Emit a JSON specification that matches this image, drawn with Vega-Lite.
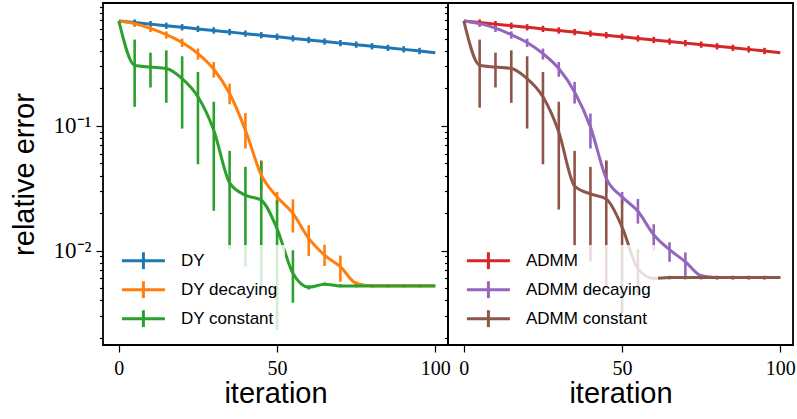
{
  "$schema": "https://vega.github.io/schema/vega-lite/v6.json",
  "padding": {"left": 9, "top": 2, "right": 2, "bottom": 2},
  "spacing": 0,
  "bounds": "flush",
  "resolve": {"scale": {"color": "independent"}, "legend": {"color": "independent"}},
  "config": {
    "view": {"stroke": "black", "strokeWidth": 1.8},
    "font": "Liberation Sans",
    "axis": {"grid": false, "domain": false, "tickColor": "black", "tickWidth": 1.2, "labelColor": "black", "titleColor": "black", "labelFont": "Liberation Serif", "labelFontSize": 20, "titleFont": "Liberation Sans", "titleFontSize": 29, "titleFontWeight": "normal"},
    "legend": {"orient": "bottom-left", "offset": 10, "padding": 7, "fillColor": "rgba(255,255,255,0.8)", "symbolType": "M-1,0H4M1.5,-1V1", "symbolSize": 296, "symbolStrokeWidth": 3, "labelFont": "Liberation Sans", "labelFontSize": 17, "labelOffset": 40, "rowPadding": 10, "clipHeight": 17.5, "labelColor": "black", "labelLimit": 300}
  },
  "data": {"values": [
    {"p":"L","s":"DY","i":0,"v":0.692},
    {"p":"L","s":"DY","i":5,"v":0.672,"lo":0.634,"hi":0.712},
    {"p":"L","s":"DY","i":10,"v":0.653,"lo":0.616,"hi":0.692},
    {"p":"L","s":"DY","i":15,"v":0.634,"lo":0.598,"hi":0.672},
    {"p":"L","s":"DY","i":20,"v":0.616,"lo":0.581,"hi":0.653},
    {"p":"L","s":"DY","i":25,"v":0.598,"lo":0.564,"hi":0.634},
    {"p":"L","s":"DY","i":30,"v":0.581,"lo":0.548,"hi":0.616},
    {"p":"L","s":"DY","i":35,"v":0.564,"lo":0.532,"hi":0.598},
    {"p":"L","s":"DY","i":40,"v":0.548,"lo":0.517,"hi":0.581},
    {"p":"L","s":"DY","i":45,"v":0.532,"lo":0.502,"hi":0.564},
    {"p":"L","s":"DY","i":50,"v":0.517,"lo":0.488,"hi":0.548},
    {"p":"L","s":"DY","i":55,"v":0.502,"lo":0.474,"hi":0.532},
    {"p":"L","s":"DY","i":60,"v":0.488,"lo":0.460,"hi":0.517},
    {"p":"L","s":"DY","i":65,"v":0.474,"lo":0.447,"hi":0.502},
    {"p":"L","s":"DY","i":70,"v":0.460,"lo":0.434,"hi":0.488},
    {"p":"L","s":"DY","i":75,"v":0.447,"lo":0.422,"hi":0.474},
    {"p":"L","s":"DY","i":80,"v":0.434,"lo":0.409,"hi":0.460},
    {"p":"L","s":"DY","i":85,"v":0.422,"lo":0.398,"hi":0.447},
    {"p":"L","s":"DY","i":90,"v":0.410,"lo":0.387,"hi":0.435},
    {"p":"L","s":"DY","i":95,"v":0.398,"lo":0.375,"hi":0.422},
    {"p":"L","s":"DY","i":100,"v":0.386},
    {"p":"L","s":"DY decaying","i":0,"v":0.692},
    {"p":"L","s":"DY decaying","i":5,"v":0.659,"lo":0.620,"hi":0.692},
    {"p":"L","s":"DY decaying","i":10,"v":0.604,"lo":0.565,"hi":0.638},
    {"p":"L","s":"DY decaying","i":15,"v":0.538,"lo":0.500,"hi":0.571},
    {"p":"L","s":"DY decaying","i":20,"v":0.465,"lo":0.429,"hi":0.500},
    {"p":"L","s":"DY decaying","i":25,"v":0.379,"lo":0.340,"hi":0.416},
    {"p":"L","s":"DY decaying","i":30,"v":0.284,"lo":0.244,"hi":0.325},
    {"p":"L","s":"DY decaying","i":35,"v":0.1815,"lo":0.149,"hi":0.218},
    {"p":"L","s":"DY decaying","i":40,"v":0.0923,"lo":0.0659,"hi":0.127},
    {"p":"L","s":"DY decaying","i":45,"v":0.0405,"lo":0.0306,"hi":0.0531},
    {"p":"L","s":"DY decaying","i":50,"v":0.0270,"lo":0.0236,"hi":0.0296},
    {"p":"L","s":"DY decaying","i":55,"v":0.0199,"lo":0.0140,"hi":0.0258},
    {"p":"L","s":"DY decaying","i":60,"v":0.01256,"lo":0.00906,"hi":0.0160},
    {"p":"L","s":"DY decaying","i":65,"v":0.00923,"lo":0.00755,"hi":0.0112},
    {"p":"L","s":"DY decaying","i":70,"v":0.00745,"lo":0.00565,"hi":0.00915},
    {"p":"L","s":"DY decaying","i":75,"v":0.00548,"lo":0.0053,"hi":0.0057},
    {"p":"L","s":"DY decaying","i":80,"v":0.00525,"lo":0.0051,"hi":0.0054},
    {"p":"L","s":"DY decaying","i":85,"v":0.00525,"lo":0.0051,"hi":0.0054},
    {"p":"L","s":"DY decaying","i":90,"v":0.00525,"lo":0.0051,"hi":0.0054},
    {"p":"L","s":"DY decaying","i":95,"v":0.00525,"lo":0.0051,"hi":0.0054},
    {"p":"L","s":"DY decaying","i":100,"v":0.00525},
    {"p":"L","s":"DY constant","i":0,"v":0.692},
    {"p":"L","s":"DY constant","i":5,"v":0.306,"lo":0.142,"hi":0.491},
    {"p":"L","s":"DY constant","i":10,"v":0.296,"lo":0.203,"hi":0.386},
    {"p":"L","s":"DY constant","i":15,"v":0.288,"lo":0.153,"hi":0.403},
    {"p":"L","s":"DY constant","i":20,"v":0.239,"lo":0.0952,"hi":0.361},
    {"p":"L","s":"DY constant","i":25,"v":0.171,"lo":0.0493,"hi":0.270},
    {"p":"L","s":"DY constant","i":30,"v":0.0923,"lo":0.0209,"hi":0.156},
    {"p":"L","s":"DY constant","i":35,"v":0.035,"lo":0.0103,"hi":0.0631},
    {"p":"L","s":"DY constant","i":40,"v":0.0279,"lo":0.00745,"hi":0.0470},
    {"p":"L","s":"DY constant","i":45,"v":0.0254,"lo":0.00485,"hi":0.0521},
    {"p":"L","s":"DY constant","i":50,"v":0.015,"lo":0.00232,"hi":0.0254},
    {"p":"L","s":"DY constant","i":55,"v":0.0066,"lo":0.00384,"hi":0.0101},
    {"p":"L","s":"DY constant","i":60,"v":0.0051,"lo":0.0049,"hi":0.0053},
    {"p":"L","s":"DY constant","i":65,"v":0.0054,"lo":0.00525,"hi":0.00557},
    {"p":"L","s":"DY constant","i":70,"v":0.00523,"lo":0.0051,"hi":0.0054},
    {"p":"L","s":"DY constant","i":75,"v":0.00523,"lo":0.0051,"hi":0.0054},
    {"p":"L","s":"DY constant","i":80,"v":0.00523,"lo":0.0051,"hi":0.0054},
    {"p":"L","s":"DY constant","i":85,"v":0.00523,"lo":0.0051,"hi":0.0054},
    {"p":"L","s":"DY constant","i":90,"v":0.00523,"lo":0.0051,"hi":0.0054},
    {"p":"L","s":"DY constant","i":95,"v":0.00523,"lo":0.0051,"hi":0.0054},
    {"p":"L","s":"DY constant","i":100,"v":0.00523},
    {"p":"R","s":"ADMM","i":0,"v":0.692},
    {"p":"R","s":"ADMM","i":5,"v":0.672,"lo":0.634,"hi":0.712},
    {"p":"R","s":"ADMM","i":10,"v":0.653,"lo":0.616,"hi":0.692},
    {"p":"R","s":"ADMM","i":15,"v":0.634,"lo":0.598,"hi":0.672},
    {"p":"R","s":"ADMM","i":20,"v":0.616,"lo":0.581,"hi":0.653},
    {"p":"R","s":"ADMM","i":25,"v":0.598,"lo":0.564,"hi":0.634},
    {"p":"R","s":"ADMM","i":30,"v":0.581,"lo":0.548,"hi":0.616},
    {"p":"R","s":"ADMM","i":35,"v":0.564,"lo":0.532,"hi":0.598},
    {"p":"R","s":"ADMM","i":40,"v":0.548,"lo":0.517,"hi":0.581},
    {"p":"R","s":"ADMM","i":45,"v":0.532,"lo":0.502,"hi":0.564},
    {"p":"R","s":"ADMM","i":50,"v":0.517,"lo":0.488,"hi":0.548},
    {"p":"R","s":"ADMM","i":55,"v":0.502,"lo":0.474,"hi":0.532},
    {"p":"R","s":"ADMM","i":60,"v":0.488,"lo":0.460,"hi":0.517},
    {"p":"R","s":"ADMM","i":65,"v":0.474,"lo":0.447,"hi":0.502},
    {"p":"R","s":"ADMM","i":70,"v":0.460,"lo":0.434,"hi":0.488},
    {"p":"R","s":"ADMM","i":75,"v":0.447,"lo":0.422,"hi":0.474},
    {"p":"R","s":"ADMM","i":80,"v":0.434,"lo":0.409,"hi":0.460},
    {"p":"R","s":"ADMM","i":85,"v":0.422,"lo":0.398,"hi":0.447},
    {"p":"R","s":"ADMM","i":90,"v":0.410,"lo":0.387,"hi":0.435},
    {"p":"R","s":"ADMM","i":95,"v":0.398,"lo":0.375,"hi":0.422},
    {"p":"R","s":"ADMM","i":100,"v":0.386},
    {"p":"R","s":"ADMM decaying","i":0,"v":0.692},
    {"p":"R","s":"ADMM decaying","i":5,"v":0.659,"lo":0.620,"hi":0.692},
    {"p":"R","s":"ADMM decaying","i":10,"v":0.606,"lo":0.565,"hi":0.638},
    {"p":"R","s":"ADMM decaying","i":15,"v":0.538,"lo":0.500,"hi":0.571},
    {"p":"R","s":"ADMM decaying","i":20,"v":0.465,"lo":0.429,"hi":0.500},
    {"p":"R","s":"ADMM decaying","i":25,"v":0.379,"lo":0.340,"hi":0.416},
    {"p":"R","s":"ADMM decaying","i":30,"v":0.288,"lo":0.247,"hi":0.325},
    {"p":"R","s":"ADMM decaying","i":35,"v":0.187,"lo":0.151,"hi":0.225},
    {"p":"R","s":"ADMM decaying","i":40,"v":0.0982,"lo":0.0659,"hi":0.1256},
    {"p":"R","s":"ADMM decaying","i":45,"v":0.038,"lo":0.029,"hi":0.053},
    {"p":"R","s":"ADMM decaying","i":50,"v":0.0270,"lo":0.0239,"hi":0.0296},
    {"p":"R","s":"ADMM decaying","i":55,"v":0.0207,"lo":0.0165,"hi":0.0260},
    {"p":"R","s":"ADMM decaying","i":60,"v":0.01345,"lo":0.0101,"hi":0.0163},
    {"p":"R","s":"ADMM decaying","i":65,"v":0.0102,"lo":0.00817,"hi":0.0117},
    {"p":"R","s":"ADMM decaying","i":70,"v":0.00817,"lo":0.0063,"hi":0.0097},
    {"p":"R","s":"ADMM decaying","i":75,"v":0.0063,"lo":0.0061,"hi":0.0065},
    {"p":"R","s":"ADMM decaying","i":80,"v":0.0061,"lo":0.0059,"hi":0.0063},
    {"p":"R","s":"ADMM decaying","i":85,"v":0.0061,"lo":0.0059,"hi":0.0063},
    {"p":"R","s":"ADMM decaying","i":90,"v":0.0061,"lo":0.0059,"hi":0.0063},
    {"p":"R","s":"ADMM decaying","i":95,"v":0.0061,"lo":0.0059,"hi":0.0063},
    {"p":"R","s":"ADMM decaying","i":100,"v":0.0061},
    {"p":"R","s":"ADMM constant","i":0,"v":0.692},
    {"p":"R","s":"ADMM constant","i":5,"v":0.306,"lo":0.140,"hi":0.491},
    {"p":"R","s":"ADMM constant","i":10,"v":0.296,"lo":0.203,"hi":0.386},
    {"p":"R","s":"ADMM constant","i":15,"v":0.288,"lo":0.153,"hi":0.403},
    {"p":"R","s":"ADMM constant","i":20,"v":0.239,"lo":0.0952,"hi":0.361},
    {"p":"R","s":"ADMM constant","i":25,"v":0.171,"lo":0.0493,"hi":0.270},
    {"p":"R","s":"ADMM constant","i":30,"v":0.0895,"lo":0.0214,"hi":0.156},
    {"p":"R","s":"ADMM constant","i":35,"v":0.033,"lo":0.0110,"hi":0.0631},
    {"p":"R","s":"ADMM constant","i":40,"v":0.0285,"lo":0.00817,"hi":0.0470},
    {"p":"R","s":"ADMM constant","i":45,"v":0.0260,"lo":0.0051,"hi":0.0521},
    {"p":"R","s":"ADMM constant","i":50,"v":0.0155,"lo":0.00316,"hi":0.0254},
    {"p":"R","s":"ADMM constant","i":55,"v":0.0072,"lo":0.00434,"hi":0.01026},
    {"p":"R","s":"ADMM constant","i":60,"v":0.0060,"lo":0.0058,"hi":0.0062},
    {"p":"R","s":"ADMM constant","i":65,"v":0.0061,"lo":0.0059,"hi":0.0063},
    {"p":"R","s":"ADMM constant","i":70,"v":0.0061,"lo":0.0059,"hi":0.0063},
    {"p":"R","s":"ADMM constant","i":75,"v":0.0061,"lo":0.0059,"hi":0.0063},
    {"p":"R","s":"ADMM constant","i":80,"v":0.0061,"lo":0.0059,"hi":0.0063},
    {"p":"R","s":"ADMM constant","i":85,"v":0.0061,"lo":0.0059,"hi":0.0063},
    {"p":"R","s":"ADMM constant","i":90,"v":0.0061,"lo":0.0059,"hi":0.0063},
    {"p":"R","s":"ADMM constant","i":95,"v":0.0061,"lo":0.0059,"hi":0.0063},
    {"p":"R","s":"ADMM constant","i":100,"v":0.0061}
  ]},
  "hconcat": [
    {
      "width": 345, "height": 342,
      "transform": [{"filter": "datum.p == 'L'"}],
      "encoding": {
        "x": {"field": "i", "type": "quantitative", "scale": {"domain": [-5, 104], "nice": false, "zero": false},
              "axis": {"values": [0, 50, 100], "tickSize": 7, "labelPadding": 6, "labelFlush": false, "title": "iteration", "titlePadding": 1}},
        "color": {"field": "s", "type": "nominal", "sort": ["DY", "DY decaying", "DY constant"],
                  "scale": {"domain": ["DY", "DY decaying", "DY constant"], "range": ["#1f77b4", "#ff7f0e", "#2ca02c"]},
                  "legend": {"title": null}}
      },
      "layer": [
        {
          "transform": [{"filter": "isValid(datum.lo)"}],
          "mark": {"type": "rule", "strokeWidth": 2.6},
          "encoding": {
            "y": {"field": "lo", "type": "quantitative", "title": "relative error",
                  "scale": {"type": "log", "domain": [0.00176, 0.964], "nice": false},
                  "axis": {"values": [0.002,0.003,0.004,0.005,0.006,0.007,0.008,0.009,0.01,0.02,0.03,0.04,0.05,0.06,0.07,0.08,0.09,0.1,0.2,0.3,0.4,0.5,0.6,0.7,0.8,0.9],
                           "labelExpr": "datum.value == 0.1 ? '10⁻¹' : datum.value == 0.01 ? '10⁻²' : ''",
                           "labelFontSize": {"condition": {"test": "datum.value == 0.1 || datum.value == 0.01", "value": 23}, "value": 0},
                           "tickSize": {"condition": {"test": "datum.value == 0.1 || datum.value == 0.01", "value": 7}, "value": 3.5},
                           "labelPadding": 5, "labelOverlap": false, "titlePadding": 14}},
            "y2": {"field": "hi"}
          }
        },
        {
          "mark": {"type": "line", "strokeWidth": 3, "interpolate": "monotone"},
          "encoding": {
            "y": {"field": "v", "type": "quantitative", "title": "relative error"}
          }
        }
      ]
    },
    {
      "width": 345, "height": 342,
      "transform": [{"filter": "datum.p == 'R'"}],
      "encoding": {
        "x": {"field": "i", "type": "quantitative", "scale": {"domain": [-5, 104], "nice": false, "zero": false},
              "axis": {"values": [0, 50, 100], "tickSize": 7, "labelPadding": 6, "labelFlush": false, "title": "iteration", "titlePadding": 1}},
        "color": {"field": "s", "type": "nominal", "sort": ["ADMM", "ADMM decaying", "ADMM constant"],
                  "scale": {"domain": ["ADMM", "ADMM decaying", "ADMM constant"], "range": ["#d62728", "#9467bd", "#8c564b"]},
                  "legend": {"title": null}}
      },
      "layer": [
        {
          "transform": [{"filter": "isValid(datum.lo)"}],
          "mark": {"type": "rule", "strokeWidth": 2.6},
          "encoding": {
            "y": {"field": "lo", "type": "quantitative", "title": null,
                  "scale": {"type": "log", "domain": [0.00176, 0.964], "nice": false},
                  "axis": {"values": [0.002,0.003,0.004,0.005,0.006,0.007,0.008,0.009,0.01,0.02,0.03,0.04,0.05,0.06,0.07,0.08,0.09,0.1,0.2,0.3,0.4,0.5,0.6,0.7,0.8,0.9],
                           "labels": false,
                           "tickSize": {"condition": {"test": "datum.value == 0.1 || datum.value == 0.01", "value": 7}, "value": 3.5}}},
            "y2": {"field": "hi"}
          }
        },
        {
          "mark": {"type": "line", "strokeWidth": 3, "interpolate": "monotone"},
          "encoding": {
            "y": {"field": "v", "type": "quantitative", "title": null}
          }
        }
      ]
    }
  ]
}
